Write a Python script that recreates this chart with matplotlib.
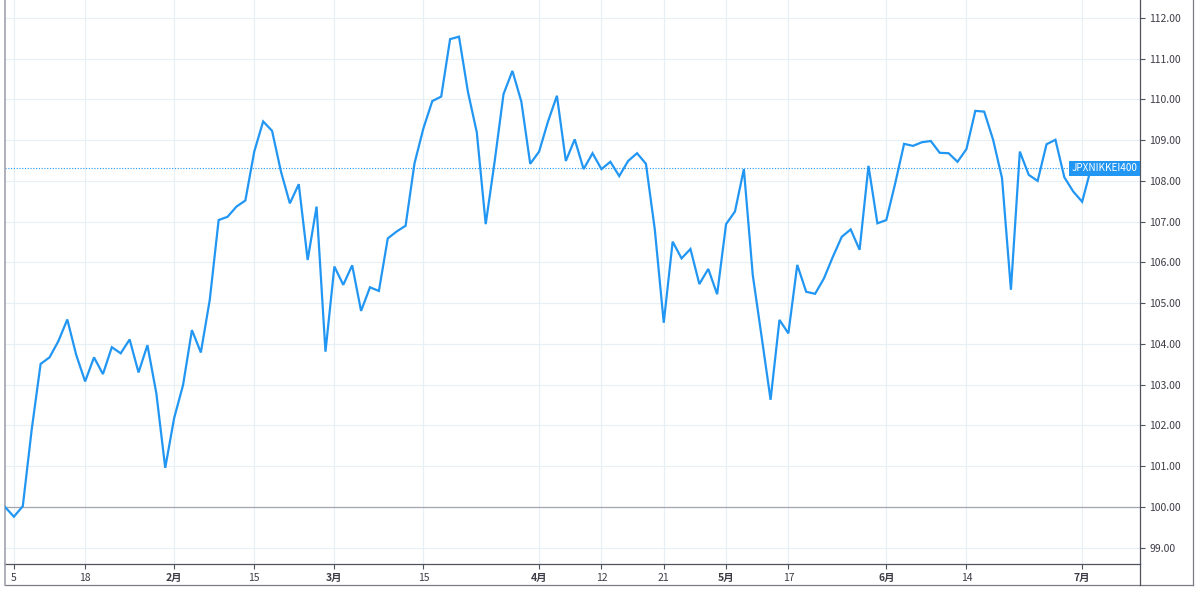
#!/usr/bin/env python3
import matplotlib
matplotlib.use('Agg')
import matplotlib.pyplot as plt
import matplotlib.transforms as mtransforms
from matplotlib.lines import Line2D
import pandas as pd

plt.rcParams['font.family'] = ['Noto Sans CJK JP', 'DejaVu Sans']

# trading days (TSE), 2021-01-04 .. 2021-07-02
holidays = ['2021-01-11', '2021-02-11', '2021-02-23', '2021-04-29',
            '2021-05-03', '2021-05-04', '2021-05-05']
days = pd.bdate_range('2021-01-04', '2021-07-02', freq='C', holidays=holidays)

# JPXNIKKEI400 rebased to 100
values = [
    100.00, 99.76, 100.02, 101.90, 103.51, 103.67, 104.07, 104.60, 103.73, 103.08,
    103.67, 103.26, 103.92, 103.77, 104.11, 103.30, 103.97, 102.79, 100.96, 102.18,
    102.99, 104.34, 103.79, 105.08, 107.04, 107.12, 107.37, 107.52, 108.72, 109.46,
    109.23, 108.23, 107.45, 107.92, 106.06, 107.37, 103.81, 105.90, 105.45, 105.93,
    104.81, 105.39, 105.30, 106.59, 106.76, 106.90, 108.43, 109.29, 109.96, 110.07,
    111.48, 111.54, 110.19, 109.19, 106.94, 108.47, 110.13, 110.70, 109.95, 108.42,
    108.72, 109.46, 110.09, 108.49, 109.02, 108.29, 108.68, 108.29, 108.47, 108.12,
    108.49, 108.68, 108.42, 106.80, 104.52, 106.51, 106.10, 106.33, 105.47, 105.84,
    105.22, 106.94, 107.25, 108.29, 105.69, 104.17, 102.63, 104.59, 104.26, 105.94,
    105.28, 105.23, 105.61, 106.14, 106.63, 106.81, 106.31, 108.37, 106.96, 107.04,
    107.94, 108.91, 108.86, 108.95, 108.98, 108.69, 108.68, 108.47, 108.78, 109.72,
    109.70, 109.01, 108.07, 105.33, 108.72, 108.15, 108.00, 108.90, 109.01, 108.09,
    107.74, 107.49, 108.31,
]
last_value = values[-1]

tick_dates = ['2021-01-05', '2021-01-18', '2021-02-01', '2021-02-15', '2021-03-01',
              '2021-03-15', '2021-04-01', '2021-04-12', '2021-04-21', '2021-05-06',
              '2021-05-17', '2021-06-01', '2021-06-14', '2021-07-01']
month_starts = ['2021-02-01', '2021-03-01', '2021-04-01', '2021-05-06', '2021-06-01', '2021-07-01']

y_ticks = list(range(99, 113))

blue = '#2196f3'
grid_c = '#e8f0f6'
axis_c = '#50535e'
text_c = '#3c3c46'

fig = plt.figure(figsize=(12, 5.92), dpi=100)
ax = fig.add_axes([5 / 1200, 28 / 592, 1135 / 1200, 564 / 592])

x = list(range(len(values)))
ax.plot(x, values, color=blue, lw=1.6, zorder=3, solid_joinstyle='miter')

ax.axhline(100, color='#a3a6af', lw=0.9, zorder=2)
ax.axhline(last_value, color=blue, lw=0.8, ls=(0, (1, 1.5)), zorder=2)

ax.set_xlim(0, 127.5)
ax.set_ylim(98.6, 112.44)

pos = [days.get_loc(pd.Timestamp(d)) for d in tick_dates]
labels = []
for d in tick_dates:
    t = pd.Timestamp(d)
    labels.append(f'{t.month}月' if d in month_starts else str(t.day))
ax.set_xticks(pos)
ax.set_xticklabels(labels)
for lab, d in zip(ax.get_xticklabels(), tick_dates):
    if d in month_starts:
        lab.set_fontweight('bold')

ax.yaxis.tick_right()
ax.set_yticks(y_ticks)
ax.set_yticklabels([f'{v:.2f}' for v in y_ticks])

ax.tick_params(axis='both', labelsize=7.5, colors=axis_c, labelcolor=text_c,
               length=3.5, width=0.8)
ax.tick_params(axis='x', pad=3)
ax.tick_params(axis='y', pad=3)

ax.grid(True, color=grid_c, lw=0.9, zorder=0)
ax.set_axisbelow(True)

ax.spines['top'].set_visible(False)
ax.spines['left'].set_color('#a0a3ab')
ax.spines['left'].set_linewidth(1.2)
ax.spines['bottom'].set_color(axis_c)
ax.spines['bottom'].set_linewidth(0.9)
ax.spines['right'].set_color(axis_c)
ax.spines['right'].set_linewidth(0.9)

# price label, pinned to the right edge of the plot
trans = mtransforms.blended_transform_factory(ax.transAxes, ax.transData)
ax.text(0.9975, last_value, 'JPXNIKKEI400', color='white', fontsize=7.2,
        ha='right', va='center', zorder=5, transform=trans,
        bbox=dict(boxstyle='square,pad=0.25', fc=blue, ec='none'))

# outer frame of the widget
fig.add_artist(Line2D([5 / 1200, 1193 / 1200], [7 / 592, 7 / 592], color='#7a7d86', lw=0.9))
fig.add_artist(Line2D([1193 / 1200, 1193 / 1200], [7 / 592, 1], color='#7a7d86', lw=0.9))
fig.add_artist(Line2D([5 / 1200, 5 / 1200], [7 / 592, 28 / 592], color='#a0a3ab', lw=1.2))
fig.add_artist(Line2D([1140 / 1200, 1140 / 1200], [7 / 592, 28 / 592], color=axis_c, lw=0.9))

fig.savefig('out.png', dpi=100, facecolor='white')
